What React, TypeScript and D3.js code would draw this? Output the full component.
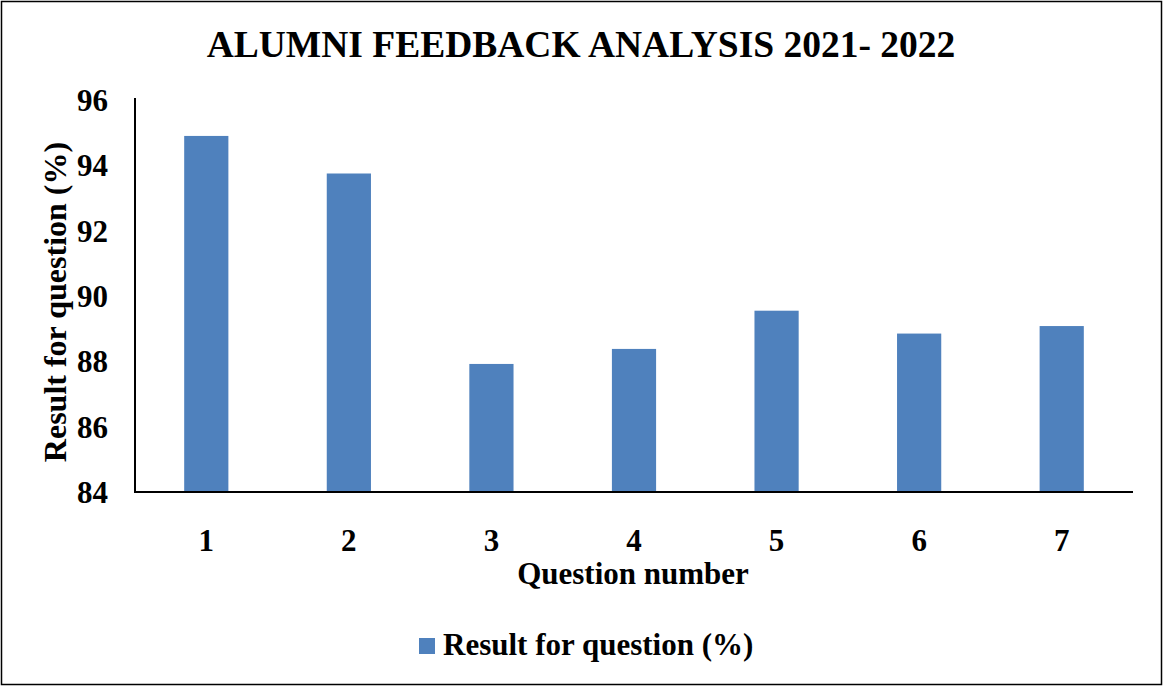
import React from 'react';
import * as d3 from 'd3';

const questions = ['1', '2', '3', '4', '5', '6', '7'];
const results = [94.9, 93.75, 87.92, 88.38, 89.55, 88.85, 89.08];
const yTicks = [84, 86, 88, 90, 92, 94, 96];

const W = 1164;
const H = 686;
const FONT = '"Liberation Serif", "Times New Roman", serif';
const BLUE = '#4f81bd';

export default function App() {
  const margin = { top: 100, right: 31, bottom: 194, left: 135 };

  const x = d3.scaleBand<string>()
    .domain(questions)
    .range([margin.left, W - margin.right])
    .padding(0);

  const y = d3.scaleLinear()
    .domain([84, 96])
    .range([H - margin.bottom, margin.top]);

  const barW = x.bandwidth() * 0.31;
  const baseY = y(84);

  return (
    <div style={{ position: 'absolute', left: 0, top: 0 }}>
      <svg width={W} height={H} style={{ display: 'block', fontFamily: FONT }}>
        <rect x={0} y={0} width={W} height={H} fill="#fff" />
        <rect x={1.5} y={1.5} width={W - 4} height={H - 3} fill="none" stroke="#000" strokeWidth={1.5} />

        <text x={581} y={57} textAnchor="middle" fontSize={37.5} fontWeight="bold" fill="#000">
          ALUMNI FEEDBACK ANALYSIS 2021- 2022
        </text>

        {results.map((v, i) => (
          <rect
            key={questions[i]}
            x={x(questions[i])! + x.bandwidth() / 2 - barW / 2}
            y={y(v)}
            width={barW}
            height={baseY - y(v)}
            fill={BLUE}
          />
        ))}

        <line x1={margin.left} x2={margin.left} y1={y(96) - 2} y2={baseY + 1} stroke="#000" strokeWidth={2} />
        <line x1={margin.left - 1} x2={W - margin.right} y1={baseY} y2={baseY} stroke="#000" strokeWidth={2} />

        {yTicks.map(t => (
          <text key={t} x={108} y={y(t)} dy="0.35em" textAnchor="end" fontSize={31} fontWeight="bold" fill="#000">
            {t}
          </text>
        ))}

        {questions.map(q => (
          <text key={q} x={x(q)! + x.bandwidth() / 2} y={551} textAnchor="middle" fontSize={31} fontWeight="bold" fill="#000">
            {q}
          </text>
        ))}

        <text x={633} y={584} textAnchor="middle" fontSize={31} fontWeight="bold" fill="#000">
          Question number
        </text>

        <text
          transform={`translate(66,${(y(84) + y(96)) / 2 + 6}) rotate(-90)`}
          textAnchor="middle"
          fontSize={32}
          fontWeight="bold"
          fill="#000"
        >
          Result for question (%)
        </text>

        <rect x={419} y={638} width={16} height={16} fill={BLUE} />
        <text x={443} y={655} fontSize={31} fontWeight="bold" fill="#000">
          Result for question (%)
        </text>
      </svg>
    </div>
  );
}
